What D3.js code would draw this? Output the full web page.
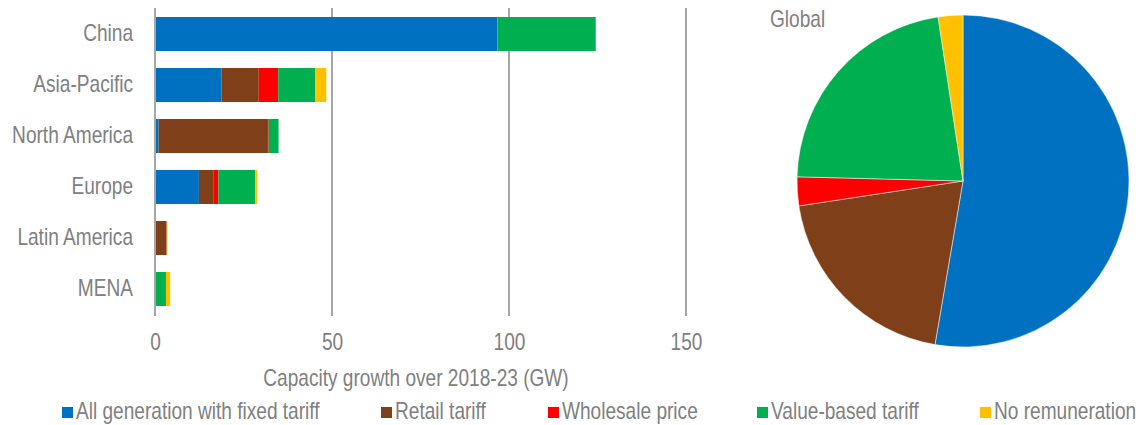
<!DOCTYPE html>
<html>
<head>
<meta charset="utf-8">
<script src="https://cdn.jsdelivr.net/npm/d3@7/dist/d3.min.js"></script>
<style>
  html, body { margin: 0; padding: 0; background: #fff; }
  svg text { font-family: "Liberation Sans", Arial, sans-serif; fill: #808080; }
</style>
</head>
<body>
<svg id="chart" width="1146" height="425"></svg>
<script>
// Regions and remuneration schemes (GW of capacity growth, 2018-23)
const regions = ["China", "Asia-Pacific", "North America", "Europe", "Latin America", "MENA"];
const schemes = ["All generation with fixed tariff", "Retail tariff", "Wholesale price", "Value-based tariff", "No remuneration"];
const colors = ["#0070c0", "#7f3f18", "#ff0000", "#00b050", "#ffc000"];

const fixedTariff    = [96.7, 18.8,  1.0, 12.4, 0.0, 0.0];
const retailTariff   = [ 0.0, 10.5, 30.9,  4.2, 3.3, 0.0];
const wholesale      = [ 0.0,  5.5,  0.2,  1.3, 0.0, 0.0];
const valueBased     = [27.8, 10.5,  2.8, 10.4, 0.0, 3.1];
const noRemuneration = [ 0.0,  3.1,  0.0,  0.6, 0.2, 1.2];

// Global share by scheme (%)
const globalShare = [52.7, 19.9, 2.8, 22.2, 2.4];

const xTicks = [0, 50, 100, 150];
const xTitle = "Capacity growth over 2018-23 (GW)";
const pieTitle = "Global";

const seriesValues = [fixedTariff, retailTariff, wholesale, valueBased, noRemuneration];

// condensed lettering: larger glyphs squeezed horizontally
const FONT = 23, SQUEEZE = 0.83;

const svg = d3.select("#chart");

// ---- Stacked horizontal bars ----
const x = d3.scaleLinear().domain([0, 150]).range([155, 686]);
const y = d3.scaleBand().domain(regions).range([8.5, 314.5]).paddingInner(1/3).paddingOuter(1/6);

// vertical gridlines
svg.append("g").selectAll("line").data(xTicks).join("line")
  .attr("x1", d => x(d)).attr("x2", d => x(d))
  .attr("y1", 8).attr("y2", 316)
  .attr("stroke", "#a6a6a6").attr("stroke-width", 2);

const rows = regions.map((r, i) => {
  const o = { region: r };
  schemes.forEach((s, j) => o[s] = seriesValues[j][i]);
  return o;
});
const stacked = d3.stack().keys(schemes)(rows);

svg.append("g").selectAll("g").data(stacked).join("g")
  .attr("fill", (d, i) => colors[i])
  .selectAll("rect").data(d => d).join("rect")
  .attr("x", d => x(d[0]))
  .attr("width", d => Math.max(0, x(d[1]) - x(d[0])))
  .attr("y", d => y(d.data.region))
  .attr("height", y.bandwidth());

// zero line drawn over the bars
svg.append("line").attr("x1", x(0)).attr("x2", x(0)).attr("y1", 8).attr("y2", 316)
  .attr("stroke", "#a6a6a6").attr("stroke-width", 2);

// region labels
const yAxis = d3.axisLeft(y).tickSize(0).tickPadding(0);
const gy = svg.append("g").attr("transform", "translate(133,0)").call(yAxis);
gy.select(".domain").remove();
gy.selectAll("text").attr("font-size", FONT).attr("fill", "#808080")
  .attr("font-family", '"Liberation Sans", Arial, sans-serif')
  .attr("transform", `scale(${SQUEEZE},1)`);

// x tick labels
const xAxis = d3.axisBottom(x).tickValues(xTicks).tickSize(0).tickPadding(0);
const gx = svg.append("g").attr("transform", "translate(0,334)").call(xAxis);
gx.select(".domain").remove();
gx.selectAll("text").attr("font-size", FONT).attr("fill", "#808080")
  .attr("font-family", '"Liberation Sans", Arial, sans-serif')
  .attr("transform", `scale(${SQUEEZE},1)`);

svg.append("text").attr("transform", `translate(416,386) scale(${SQUEEZE},1)`)
  .attr("text-anchor", "middle").attr("font-size", FONT).text(xTitle);

// ---- Global pie ----
const pie = d3.pie().sort(null).value(d => d)(globalShare);
const arc = d3.arc().innerRadius(0).outerRadius(166);
svg.append("g").attr("transform", "translate(963,181)")
  .selectAll("path").data(pie).join("path")
  .attr("d", arc).attr("fill", (d, i) => colors[i])
  .attr("stroke", "#fff").attr("stroke-width", 0.5);

svg.append("text").attr("transform", `translate(770,27) scale(${SQUEEZE},1)`)
  .attr("font-size", FONT).text(pieTitle);

// ---- Legend ----
const legendX = [62, 381, 548, 757, 980];
const lg = svg.append("g").selectAll("g").data(schemes).join("g")
  .attr("transform", (d, i) => `translate(${legendX[i]},407)`);
lg.append("rect").attr("width", 11).attr("height", 11).attr("fill", (d, i) => colors[i]);
lg.append("text").attr("transform", `translate(14,12) scale(${SQUEEZE},1)`)
  .attr("font-size", FONT).text(d => d);
</script>
</body>
</html>
